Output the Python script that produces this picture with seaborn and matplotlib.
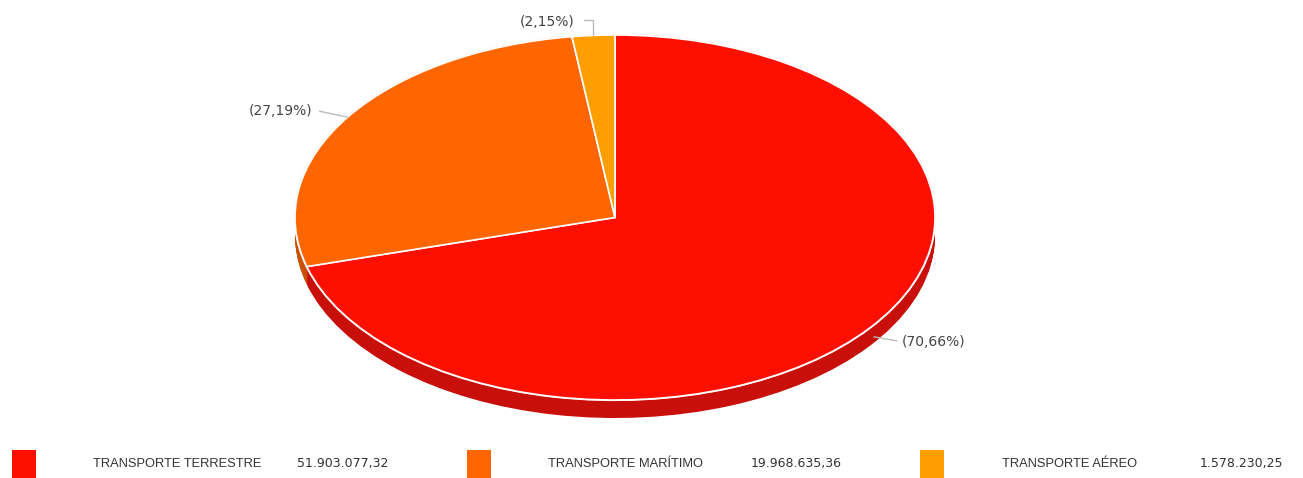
import numpy as np
import matplotlib
matplotlib.use("Agg")
import matplotlib.pyplot as plt
import seaborn as sns
from matplotlib.patches import Rectangle

sns.set_theme(style="white")
plt.rcParams['font.family'] = ['DejaVu Sans']

categories = ["TRANSPORTE TERRESTRE", "TRANSPORTE MARÍTIMO", "TRANSPORTE AÉREO"]
values = [51903077.32, 19968635.36, 1578230.25]
value_labels = ["51.903.077,32", "19.968.635,36", "1.578.230,25"]
pct_labels = ["(70,66%)", "(27,19%)", "(2,15%)"]
top_colors = ["#FF0F00", "#FF6600", "#FF9E01"]
side_colors = ["#C80F0A", "#C85000", "#C87C00"]

W, H = 1303, 478
fig = plt.figure(figsize=(W / 100, H / 100), dpi=100)
fig.patch.set_facecolor("white")

# pie geometry (pixels)
cx, cy = 615, 217.5
rx, ry = 320, 182.5
depth = 18

ax = fig.add_axes([0, 0, 1, 1])
ax.set_axis_off()

# side (depth) layers
for d in np.arange(depth, 0, -1.0):
    ax.pie(values, colors=side_colors, startangle=90, counterclock=False,
           center=(0, -d / ry), radius=1,
           wedgeprops=dict(edgecolor="none", linewidth=0))
# rim highlight
ax.pie(values, colors=top_colors, startangle=90, counterclock=False,
       center=(0, 0), radius=1,
       wedgeprops=dict(edgecolor="#FFE8E0", linewidth=1.6))
ax.pie(values, colors=top_colors, startangle=90, counterclock=False,
       center=(0, 0), radius=1,
       wedgeprops=dict(edgecolor="white", linewidth=1.2))

ax.set_aspect("auto")
ax.set_xlim((0 - cx) / rx, (W - cx) / rx)
ax.set_ylim(-(H - cy) / ry, cy / ry)

# labels with leader lines
total = sum(values)
fr = [v / total for v in values]
start = 90.0
label_color = "#444444"
line_color = "#BBBBBB"
lfs = 10
for i, f in enumerate(fr):
    mid = start - f * 360 / 2
    start -= f * 360
    a = np.deg2rad(mid)
    px, py = np.cos(a), np.sin(a)
    if i == 0:
        p0 = (px + 4 / rx, py - 0.5 * depth / ry)
        p1 = (px + 27 / rx, py - 0.5 * depth / ry - 4 / ry)
        ax.plot([p0[0], p1[0]], [p0[1], p1[1]], color=line_color, lw=1)
        ax.text(p1[0] + 5 / rx, p1[1] - 1 / ry, pct_labels[i], ha="left", va="center",
                fontsize=lfs, color=label_color)
    elif i == 1:
        p0 = (px, py)
        p1 = (px - 28 / rx, py + 6 / ry)
        ax.plot([p0[0], p1[0]], [p0[1], p1[1]], color=line_color, lw=1)
        ax.text(p1[0] - 7 / rx, p1[1], pct_labels[i], ha="right", va="center",
                fontsize=lfs, color=label_color)
    else:
        p0 = (px, py)
        p1 = (px, py + 15 / ry)
        p2 = (px - 9 / rx, py + 15 / ry)
        ax.plot([p0[0], p1[0], p2[0]], [p0[1], p1[1], p2[1]], color=line_color, lw=1)
        ax.text(p2[0] - 10 / rx, p2[1] - 2 / ry, pct_labels[i], ha="right", va="center",
                fontsize=lfs, color=label_color)

# legend
sq_x = [12, 467, 920]
name_x = [93, 548, 1002]
val_x = [297, 751, 1200]
for i in range(3):
    fig.patches.append(Rectangle((sq_x[i] / W, 0), 24 / W, 28 / H,
                                 transform=fig.transFigure, facecolor=top_colors[i],
                                 edgecolor="none"))
    fig.text(name_x[i] / W, (H - 464) / H, categories[i], ha="left", va="center",
             fontsize=9.3, color="#333333", family="Liberation Sans")
    fig.text(val_x[i] / W, (H - 464) / H, value_labels[i], ha="left", va="center",
             fontsize=9, color="#333333", family="DejaVu Sans")

fig.savefig("out.png", dpi=100, facecolor="white")
